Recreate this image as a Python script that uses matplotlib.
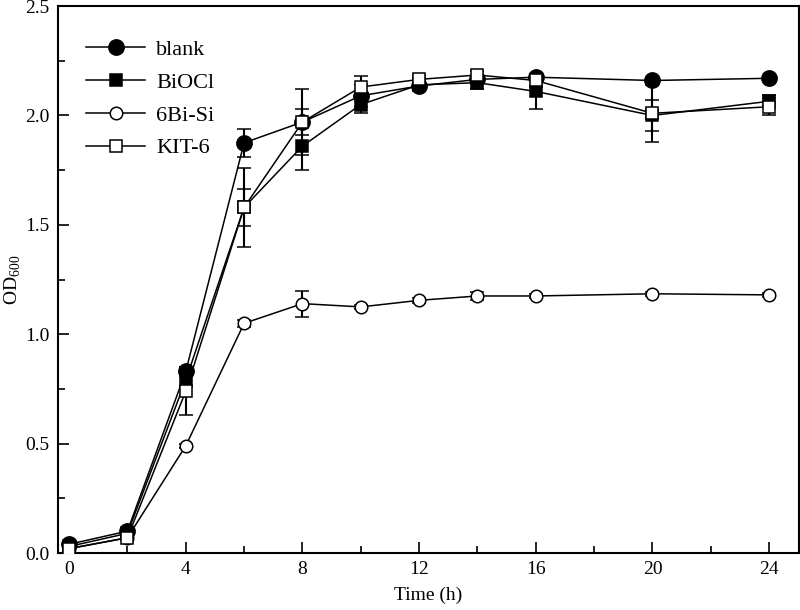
import matplotlib
matplotlib.use("Agg")
import matplotlib.pyplot as plt
from matplotlib.ticker import MultipleLocator, FormatStrFormatter
from matplotlib.lines import Line2D

plt.rcParams['font.family'] = ['Liberation Serif', 'DejaVu Serif']
plt.rcParams['mathtext.fontset'] = 'custom'
plt.rcParams['mathtext.rm'] = 'Liberation Serif'

time = [0, 2, 4, 6, 8, 10, 12, 14, 16, 20, 24]

blank = [0.04, 0.10, 0.83, 1.875, 1.97, 2.09, 2.135, 2.165, 2.175, 2.16, 2.17]
blank_err = [0.01, 0.01, 0.02, 0.065, 0.15, 0.05, 0.02, 0.02, 0.01, 0.01, 0.01]

biocl = [0.03, 0.09, 0.79, 1.58, 1.86, 2.05, 2.14, 2.15, 2.11, 2.00, 2.065]
biocl_err = [0.01, 0.01, 0.03, 0.085, 0.11, 0.04, 0.03, 0.03, 0.08, 0.07, 0.03]

bisi = [0.02, 0.07, 0.49, 1.05, 1.14, 1.125, 1.155, 1.175, 1.175, 1.185, 1.18]
bisi_err = [0.005, 0.005, 0.01, 0.015, 0.06, 0.01, 0.01, 0.02, 0.01, 0.01, 0.01]

kit6 = [0.02, 0.07, 0.74, 1.58, 1.97, 2.13, 2.165, 2.185, 2.16, 2.01, 2.04]
kit6_err = [0.01, 0.01, 0.11, 0.18, 0.06, 0.05, 0.02, 0.02, 0.03, 0.13, 0.04]

labels = ['blank', 'BiOCl', '6Bi-Si', 'KIT-6']

fig = plt.figure(figsize=(8, 6.1), dpi=100)
ax = fig.add_axes([0.0725, 0.0934, 0.9265, 0.8966])

series = [
    (blank, blank_err, 'o', 'black', 11),
    (biocl, biocl_err, 's', 'black', 8.5),
    (bisi, bisi_err, 'o', 'white', 9),
    (kit6, kit6_err, 's', 'white', 8.5),
]
handles = []
for i, (vals, err, mk, fc, ms) in enumerate(series):
    ax.errorbar(time, vals, yerr=err, fmt='-', color='black', lw=1.1,
                marker=mk, markersize=ms,
                markerfacecolor=fc, markeredgecolor='black', markeredgewidth=1.1,
                elinewidth=1.5, capsize=5, capthick=1.5, zorder=2 + i)
    handles.append(Line2D([], [], color='black', lw=1.1, marker=mk, markersize=ms,
                          markerfacecolor=fc, markeredgecolor='black',
                          markeredgewidth=1.1, label=labels[i]))

ax.set_xlim(-0.38, 25.03)
ax.set_ylim(0, 2.5)
ax.xaxis.set_major_locator(MultipleLocator(4))
ax.xaxis.set_minor_locator(MultipleLocator(2))
ax.yaxis.set_major_locator(MultipleLocator(0.5))
ax.yaxis.set_minor_locator(MultipleLocator(0.25))
ax.yaxis.set_major_formatter(FormatStrFormatter('%.1f'))
ax.tick_params(which='both', direction='in', top=False, right=False, labelsize=14)
ax.tick_params(which='major', length=8, width=1.2, pad=6)
ax.tick_params(which='minor', length=5, width=1.2)
for s in ax.spines.values():
    s.set_linewidth(1.5)

ax.set_xlabel('Time (h)', fontsize=14, labelpad=6)
ax.set_ylabel('OD$_{600}$', fontsize=14, labelpad=2)

ax.legend(handles=handles, loc='upper left', frameon=False, fontsize=16,
          handlelength=2.65, handletextpad=0.5, labelspacing=0.55,
          borderaxespad=0.0, bbox_to_anchor=(0.026, 0.955))

fig.savefig('out.png', dpi=100)
